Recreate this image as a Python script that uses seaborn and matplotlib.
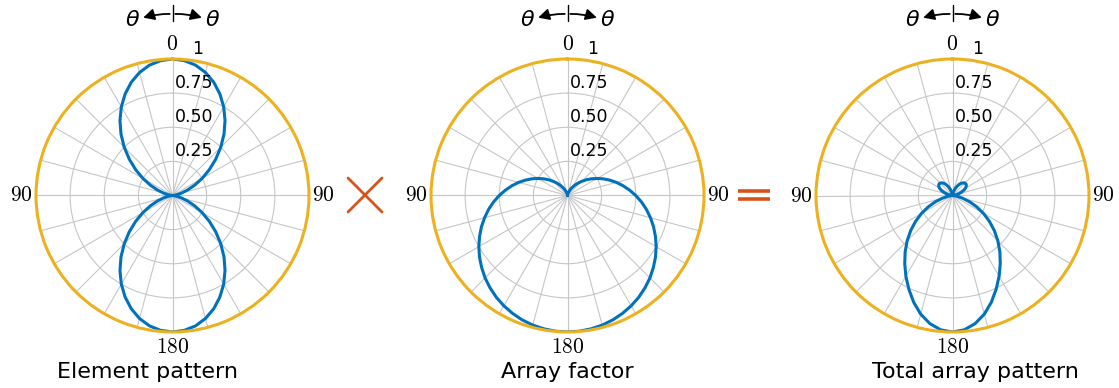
# Polar radiation patterns: element pattern x array factor = total pattern

import numpy as np
import seaborn as sns
import matplotlib.pyplot as plt
from matplotlib.lines import Line2D
from matplotlib.patches import FancyArrowPatch


# Data ........................................................................

# Angle from broadside axis (deg), one half of the pattern; mirrored for the other half
theta_deg = list(range(0, 181, 5))

# Normalised element pattern
element_pattern = [1.000, 0.992, 0.970, 0.933, 0.883, 0.821, 0.750, 0.671, 0.587, 0.500,
                   0.413, 0.329, 0.250, 0.179, 0.117, 0.067, 0.030, 0.008, 0.000, 0.008,
                   0.030, 0.067, 0.117, 0.179, 0.250, 0.329, 0.413, 0.500, 0.587, 0.671,
                   0.750, 0.821, 0.883, 0.933, 0.970, 0.992, 1.000]

# Normalised array factor (middle panel)
array_factor = [0.000, 0.002, 0.008, 0.017, 0.030, 0.047, 0.067, 0.090, 0.117, 0.146,
                0.179, 0.213, 0.250, 0.289, 0.329, 0.371, 0.413, 0.456, 0.500, 0.544,
                0.587, 0.629, 0.671, 0.711, 0.750, 0.787, 0.821, 0.854, 0.883, 0.910,
                0.933, 0.953, 0.970, 0.983, 0.992, 0.998, 1.000]

# Normalised total array pattern (right panel)
total_pattern = [0.000, 0.004, 0.014, 0.030, 0.050, 0.071, 0.091, 0.108, 0.121, 0.129,
                 0.130, 0.124, 0.111, 0.092, 0.069, 0.045, 0.023, 0.007, 0.000, 0.009,
                 0.035, 0.077, 0.132, 0.195, 0.262, 0.330, 0.400, 0.470, 0.540, 0.610,
                 0.683, 0.757, 0.832, 0.900, 0.953, 0.988, 1.000]

panel_titles = ["Element pattern", "Array factor", "Total array pattern"]
r_ticks = [0.25, 0.50, 0.75, 1.00]
r_tick_labels = ["0.25", "0.50", "0.75", "1"]
theta_label_map = {0: "$0$", 90: "$90$", 180: "$180$", 270: "$90$"}


# Style .......................................................................

sns.set_style("white")
plt.rcParams["font.family"] = ["DejaVu Sans"]
plt.rcParams["mathtext.fontset"] = "cm"
for key in ["text.color", "axes.labelcolor", "xtick.color", "ytick.color"]:
    plt.rcParams[key] = "black"

BLUE = "#0072BD"
ORANGE = "#EDB120"
RED = "#D95319"
GRID = "#c6c6c6"

W, H = 1119, 388
fig = plt.figure(figsize = (W / 100, H / 100), dpi = 100)

def fx(x):
    return x / W

def fy(y):
    return 1 - y / H


# Panels ......................................................................

centres = [172.5, 567.5, 952.5]
title_x = [148, 567, 975]
cy, rad = 195.5, 136.5
patterns = [element_pattern, array_factor, total_pattern]

theta_grid = list(range(0, 360, 15))
theta_labels = [theta_label_map.get(t, "") for t in theta_grid]

for cx, vals, title, tx in zip(centres, patterns, panel_titles, title_x):

    ax = fig.add_axes([fx(cx - rad), fy(cy + rad), 2 * rad / W, 2 * rad / H],
                      projection = "polar")
    ax.set_theta_zero_location("N")
    ax.set_theta_direction(-1)

    # Closed curve: right half then mirrored left half
    th = theta_deg + [360 - d for d in theta_deg[-2::-1]]
    rr = vals + vals[-2::-1]
    sns.lineplot(x = np.deg2rad(th), y = rr, ax = ax, sort = False,
                 estimator = None, color = BLUE, linewidth = 2.2)

    ax.set_rlim(0, 1)
    ax.set_rticks(r_ticks)
    ax.set_yticklabels([])
    ax.set_thetagrids(theta_grid, theta_labels, fontsize = 15.5)
    ax.tick_params(axis = "x", pad = 0)
    ax.grid(True, color = GRID, linewidth = 0.8)
    ax.spines["polar"].set_color(ORANGE)
    ax.spines["polar"].set_linewidth(2.2)
    ax.set_xlabel("")
    ax.set_ylabel("")

    # Radial tick labels next to the vertical spoke
    for v, s in zip(r_ticks, r_tick_labels):
        off = 20 if s == "1" else 2
        ax.annotate(s, xy = (0, v), xytext = (off, 1), textcoords = "offset pixels",
                    ha = "left", va = "bottom", fontsize = 12.5)

    # Panel caption
    fig.text(fx(tx), fy(378), title, ha = "center", va = "baseline", fontsize = 16)

    # Theta direction marker above the panel
    for sgn in (-1, 1):
        fig.add_artist(FancyArrowPatch(posA = (fx(cx), fy(14)),
                                       posB = (fx(cx + sgn * 32), fy(18.5)),
                                       transform = fig.transFigure,
                                       connectionstyle = f"arc3,rad={-0.09 * sgn}",
                                       arrowstyle = "-|>,head_length=0.55,head_width=0.28",
                                       mutation_scale = 12, lw = 1.3, color = "black"))
        fig.text(fx(cx + sgn * 40), fy(20), "θ", ha = "center", va = "center",
                 fontsize = 16, style = "italic")
    fig.add_artist(Line2D([fx(cx), fx(cx)], [fy(5), fy(21)], transform = fig.transFigure,
                          color = "black", lw = 1.0))


# Operators between panels ....................................................

fig.add_artist(Line2D([fx(348), fx(382)], [fy(178), fy(212)], transform = fig.transFigure,
                      color = RED, lw = 2.0))
fig.add_artist(Line2D([fx(348), fx(382)], [fy(212), fy(178)], transform = fig.transFigure,
                      color = RED, lw = 2.0))
for yy in (191, 199):
    fig.add_artist(Line2D([fx(738), fx(770)], [fy(yy), fy(yy)], transform = fig.transFigure,
                          color = RED, lw = 2.6, solid_capstyle = "butt"))

plt.savefig("out.png", dpi = 100)
